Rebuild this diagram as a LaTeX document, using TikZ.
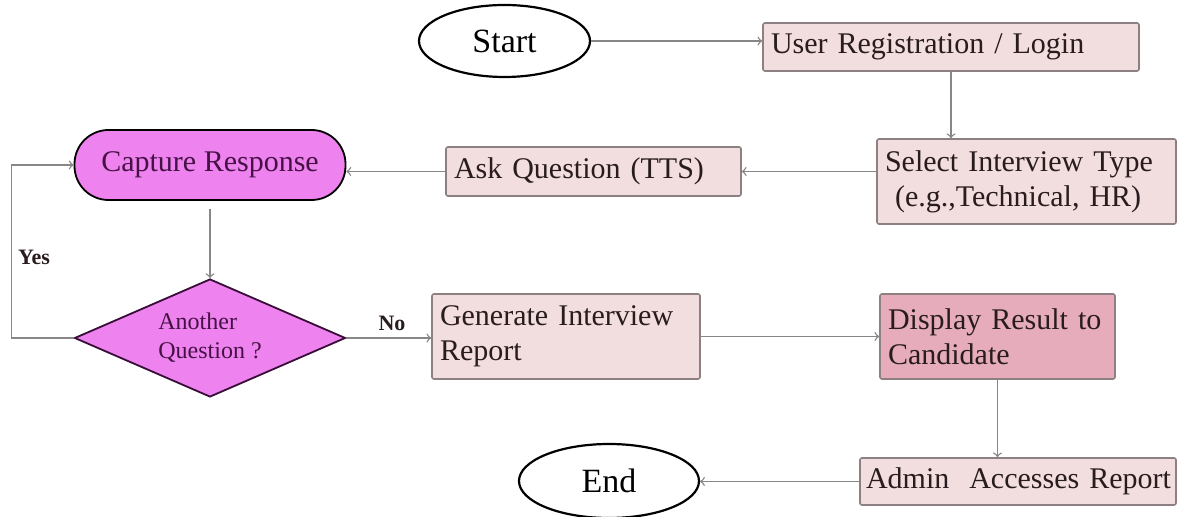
\documentclass[tikz,border=0pt]{standalone}
\usepackage{fontspec}
\setmainfont{Liberation Serif}
\definecolor{BoxPink}{RGB}{242,221,223}
\definecolor{DeepPink}{RGB}{230,172,187}
\definecolor{BoxEdge}{RGB}{140,128,130}
\definecolor{LineGrey}{RGB}{135,135,135}
\definecolor{FlowViolet}{RGB}{238,130,238}
\definecolor{InkPurple}{RGB}{70,18,70}
\definecolor{TextInk}{RGB}{40,28,30}
\usetikzlibrary{shapes.geometric}

\begin{document}
\begin{tikzpicture}[x=0.5pt,y=-0.5pt,>=to,
      st/.style={draw=BoxEdge,fill=BoxPink,line width=0.8pt,rounded corners=1pt,
                 align=left,inner xsep=4pt,inner ysep=0pt,text=TextInk,
                 font=\fontsize{15}{17.5}\selectfont,
                 execute at begin node={\hyphenpenalty=10000}},
      term/.style={ellipse,draw=black,line width=1.1pt,fill=white,inner sep=0pt,
                   font=\fontsize{17}{20}\selectfont},
      ar/.style={->,draw=LineGrey,line width=0.7pt},
      lab/.style={font=\fontsize{11}{13}\selectfont\bfseries,text=TextInk}]
    \useasboundingbox (0,0) rectangle (1178,517);
    % top row
    \node[term,minimum width=85.5pt,minimum height=36pt] (start) at (504.5,41) {Start};
    \node[st,text width=180pt,minimum height=24pt] (reg) at (951,47) {User Registration / Login};
    \node[st,text width=141.5pt,minimum height=42.5pt] (sel) at (1026.5,181.5)
         {Select Interview Type\\ \ (e.g.,Technical, HR)};
    \node[st,text width=139.5pt,minimum height=24.5pt] (ask) at (593.5,171.5) {Ask Question (TTS)};
    % question loop
    \node[draw=black,fill=FlowViolet,line width=0.9pt,rounded corners=17pt,
          minimum width=135.5pt,minimum height=35pt,text=InkPurple,
          font=\fontsize{15}{17.5}\selectfont] (cap) at (210,165) {Capture Response};
    \node[diamond,draw=InkPurple!80!black,fill=FlowViolet,line width=0.9pt,
          shape aspect=2.3,inner sep=0pt,minimum width=135.5pt,minimum height=59pt,
          align=left,text=InkPurple,font=\fontsize{12}{14.5}\selectfont] (dec) at (210,338)
         {Another\\Question ?};
    % bottom rows
    \node[st,text width=126pt,minimum height=42.5pt] (gen) at (566,336.5) {Generate Interview\\Report};
    \node[st,fill=DeepPink,text width=109.5pt,minimum height=42.5pt] (disp) at (997.5,336.5)
         {Display Result to\\Candidate};
    \node[st,inner xsep=3pt,text width=152pt,minimum height=23.5pt] (adm) at (1018,481.5)
         {\mbox{Admin\ \ Accesses Report}};
    \node[term,minimum width=90pt,minimum height=37pt] (end) at (609,481) {End};
    % connectors
    \draw[ar] (start.east) -- (start.east -| reg.west);
    \draw[ar] (reg.south) -- (reg.south |- sel.north);
    \draw[ar] (ask.east -| sel.west) -- (ask.east);
    \draw[ar] (ask.west) -- (ask.west -| cap.east);
    \draw[ar,shorten <=4pt] (cap.south) -- (dec.north);
    \draw[ar] (dec.west) -- ++(-31pt,0) |- (cap.west);
    \draw[ar] (dec.east) -- (dec.east -| gen.west);
    \draw[ar] (gen.east) -- (gen.east -| disp.west);
    \draw[ar] (disp.south) -- (disp.south |- adm.north);
    \draw[ar] (adm.west) -- (adm.west -| end.east);
    \node[lab] (yes) at (34,257) {Yes};
    \node[lab] (no) at (392,323) {No};
  \end{tikzpicture}
\end{document}
